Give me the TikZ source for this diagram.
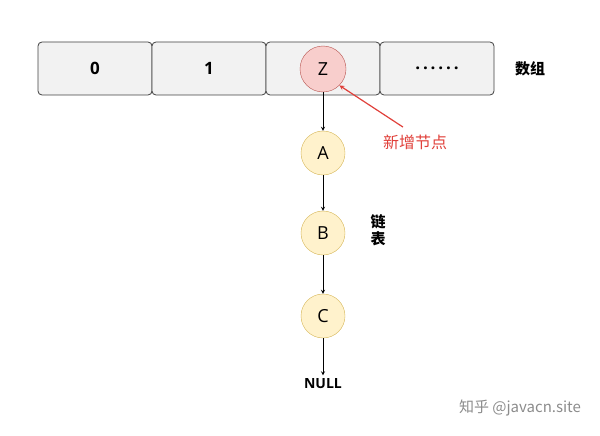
\documentclass[tikz,border=0pt]{standalone}
\usepackage{fontspec}
\setmainfont{Open Sans}
\newfontfamily\cjk{Noto Sans CJK SC}
\usetikzlibrary{positioning}
\definecolor{cellgray}{HTML}{F2F2F2}
\definecolor{nodeyellow}{HTML}{FFF2CC}
\definecolor{edgeyellow}{HTML}{D6B656}
\definecolor{nodepink}{HTML}{F8CECC}
\definecolor{edgepink}{HTML}{B85450}
\definecolor{notered}{HTML}{E0403A}
\tikzset{
  cell/.style={draw=black!75,fill=cellgray,rounded corners=4pt,minimum width=114pt,minimum height=53pt,font=\fontsize{17}{20}\selectfont\bfseries,line width=0.8pt},
  listnode/.style={circle,draw=edgeyellow,fill=nodeyellow,minimum size=44pt,font=\fontsize{18}{20}\selectfont,inner sep=0pt},
  newnode/.style={circle,draw=edgepink,fill=nodepink,minimum size=46pt,font=\fontsize{18}{20}\selectfont,inner sep=0pt},
  link/.style={->,>=stealth,thick}
}
\begin{document}
\begin{tikzpicture}[x=1pt,y=-1pt]
  \useasboundingbox (0,0) rectangle (600,436);
  \node[cell] (c0) at (95,68.5) {0};
  \node[cell] (c1) at (209,68.5) {1};
  \node[cell] (c2) at (323,68.5) {};
  \node[cell] (c3) at (437,68.5) {.\,.\,.\,.\,.\,.};
  \node[font=\cjk\fontsize{15}{18}\selectfont\bfseries] (arr) at (530,69) {数组};
  \node[newnode] (z) at (323,69) {Z};
  \node[listnode] (a) at (323,153) {A};
  \node[listnode] (b) at (323,233) {B};
  \node[listnode] (c) at (323,316) {C};
  \node[font=\fontsize{14}{16}\selectfont\bfseries] (null) at (323,384) {NULL};
  \node[font=\cjk\fontsize{15}{17}\selectfont\bfseries,align=center] (list) at (378,230) {链\\表};
  \node[font=\cjk\fontsize{16}{18}\selectfont,text=notered] (new) at (415,142) {新增节点};
  \node[font=\cjk\fontsize{15}{18}\selectfont,text=black!45] (mark) at (520,408) {知乎 @javacn.site};
  \draw[link] (z) -- (a);
  \draw[link] (a) -- (b);
  \draw[link] (b) -- (c);
  \draw[link] (c) -- (null);
  \draw[->,>=stealth,line width=1.2pt,notered] (new.north) ++(-12,-4) -- (z.south east);
\end{tikzpicture}
\end{document}
